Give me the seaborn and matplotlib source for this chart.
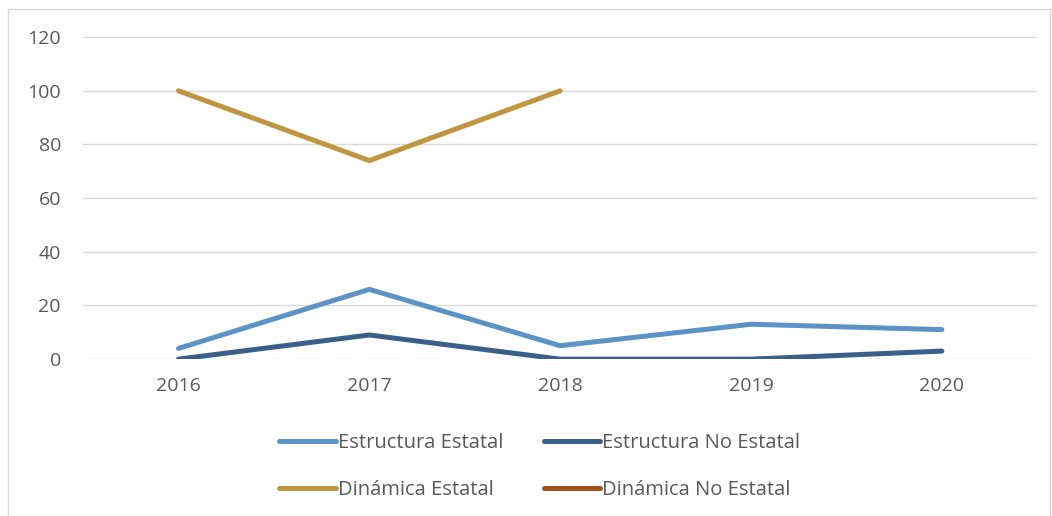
import numpy as np
import pandas as pd
import matplotlib.pyplot as plt
import seaborn as sns

# data
years = ['2016', '2017', '2018', '2019', '2020']
estructura_estatal = [4, 26, 5, 13, 11]
estructura_no_estatal = [0, 9, 0, 0, 3]
dinamica_estatal = [100, 74, 100, np.nan, np.nan]
dinamica_no_estatal = [np.nan, np.nan, np.nan, np.nan, np.nan]

series_names = ['Estructura Estatal', 'Estructura No Estatal',
                'Dinámica Estatal', 'Dinámica No Estatal']
series_values = [estructura_estatal, estructura_no_estatal,
                 dinamica_estatal, dinamica_no_estatal]
colors = ['#5B93C7', '#3A5F8A', '#BF953F', '#A5501C']

rows = []
for name, vals in zip(series_names, series_values):
    for i, (yr, v) in enumerate(zip(years, vals)):
        rows.append({'pos': i, 'year': yr, 'value': v, 'serie': name})
df = pd.DataFrame(rows)

sns.set_theme(style='white')
plt.rcParams['font.family'] = ['Open Sans', 'DejaVu Sans']

fig = plt.figure(figsize=(10.52, 5.16), dpi=100)
ax = fig.add_axes([0.079, 0.304, 0.907, 0.624])

for name, color in zip(series_names, colors):
    sub = df[df['serie'] == name]
    sns.lineplot(data=sub, x='pos', y='value', ax=ax, color=color,
                 linewidth=3.6, label=name, solid_capstyle='round')

ax.set_xlim(-0.5, 4.5)
ax.set_ylim(0, 120)
ax.set_yticks(range(0, 121, 20))
ax.set_xticks(range(len(years)))
ax.set_xticklabels(years)
ax.set_xlabel('')
ax.set_ylabel('')
ax.grid(axis='y', color='#D9D9D9', linewidth=1)
ax.set_axisbelow(True)
for s in ax.spines.values():
    s.set_visible(False)
ax.tick_params(axis='both', length=0, labelsize=14, colors='#595959')
ax.tick_params(axis='y', pad=16)
ax.tick_params(axis='x', pad=13)

handles, labels = ax.get_legend_handles_labels()
ax.get_legend().remove()
# row-major order like the original legend
order = [0, 2, 1, 3]
fig.legend([handles[i] for i in order], [labels[i] for i in order], ncol=2,
           loc='center', bbox_to_anchor=(0.513, 0.096), frameon=False,
           fontsize=14.5, labelcolor='#595959', handlelength=2.8,
           handletextpad=0.1, columnspacing=2.0, labelspacing=1.3)

# outer chart border
fig.add_artist(plt.Rectangle((0.008, -0.01), 0.99, 0.993, transform=fig.transFigure,
                             fill=False, edgecolor='#D9D9D9', linewidth=1))

fig.savefig('out.png', dpi=100)
